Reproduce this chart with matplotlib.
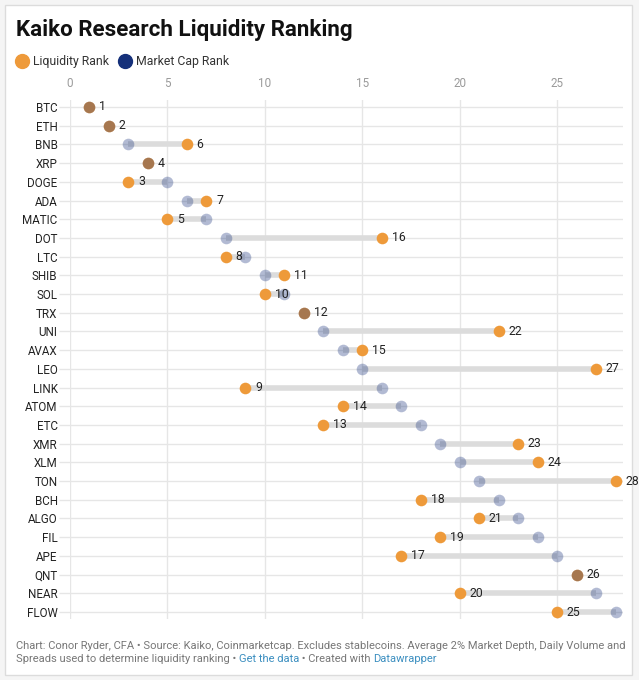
import matplotlib
matplotlib.use("Agg")
import matplotlib.pyplot as plt
from matplotlib.lines import Line2D
from matplotlib.patches import Rectangle

coins = ["BTC", "ETH", "BNB", "XRP", "DOGE", "ADA", "MATIC", "DOT", "LTC", "SHIB",
         "SOL", "TRX", "UNI", "AVAX", "LEO", "LINK", "ATOM", "ETC", "XMR", "XLM",
         "TON", "BCH", "ALGO", "FIL", "APE", "QNT", "NEAR", "FLOW"]
market_cap_rank = [1, 2, 3, 4, 5, 6, 7, 8, 9, 10, 11, 12, 13, 14, 15, 16, 17, 18, 19, 20,
                   21, 22, 23, 24, 25, 26, 27, 28]
liquidity_rank = [1, 2, 6, 4, 3, 7, 5, 16, 8, 11, 10, 12, 22, 15, 27, 9, 14, 13, 23, 24,
                  28, 18, 21, 19, 17, 26, 20, 25]
x_ticks = [0, 5, 10, 15, 20, 25]

ORANGE = "#ee9a3a"
NAVY = "#15307a"
GRID = "#e6e6e6"
FONT = "Roboto"

W, H = 639, 680
fig = plt.figure(figsize=(W / 100, H / 100), dpi=100)
fig.patch.set_facecolor("#f5f5f5")
fig.add_artist(Rectangle((5 / W, 1 - 675 / H), 627 / W, 670 / H, transform=fig.transFigure,
                         facecolor="white", edgecolor="#dcdcdc", linewidth=1, zorder=0))

ax_left, ax_right, ax_top, ax_bottom = 70, 623.3, 100, 619
ax = fig.add_axes([ax_left / W, 1 - ax_bottom / H, (ax_right - ax_left) / W, (ax_bottom - ax_top) / H])
ax.set_facecolor("none")
ax.set_zorder(1)

ypos = list(range(1, len(coins) + 1))
for y, m, l in zip(ypos, market_cap_rank, liquidity_rank):
    ax.plot([m, l], [y, y], color="#dcdcdc", linewidth=4.0, solid_capstyle="butt", zorder=2)
ax.scatter(liquidity_rank, ypos, s=70, color=ORANGE, zorder=3, linewidths=0)
ax.scatter(market_cap_rank, ypos, s=70, color=NAVY, alpha=0.33, zorder=4, linewidths=0)
for y, l in zip(ypos, liquidity_rank):
    ax.annotate(str(l), (l, y), xytext=(7, 0), textcoords="offset points", va="center",
                ha="left", fontsize=8.8, color="#222222", family=FONT, zorder=5)

ax.set_xlim(0, 28.39)
px_per_row = (612 - 107) / 27
ax.set_ylim(28 + 7 / px_per_row, 1 - 7 / px_per_row)
ax.set_xticks(x_ticks)
ax.set_yticks(ypos)
ax.set_yticklabels(coins)
ax.xaxis.tick_top()
ax.tick_params(axis="x", length=0, pad=7, labelsize=8.4, labelcolor="#9a9a9a")
ax.tick_params(axis="y", length=8, width=1, color=GRID, pad=1, labelsize=8.4, labelcolor="#222222")
for lab in ax.get_xticklabels() + ax.get_yticklabels():
    lab.set_family(FONT)
for s in ax.spines.values():
    s.set_visible(False)
ax.grid(True, color=GRID, linewidth=1, zorder=0)
ax.set_axisbelow(True)

# Title
fig.text(16 / W, 1 - 30 / H, "Kaiko Research Liquidity Ranking", fontsize=16.1, fontweight="bold",
         family=FONT, color="#111111", va="center", ha="left")

# Legend
ly = 1 - 61 / H
fig.add_artist(Line2D([22 / W], [ly], marker="o", markersize=10, color=ORANGE, linewidth=0,
                      transform=fig.transFigure))
fig.text(33 / W, ly, "Liquidity Rank", fontsize=8.8, family=FONT, color="#333333", va="center")
fig.add_artist(Line2D([125 / W], [ly], marker="o", markersize=10, color=NAVY, linewidth=0,
                      transform=fig.transFigure))
fig.text(136 / W, ly, "Market Cap Rank", fontsize=8.8, family=FONT, color="#333333", va="center")

# Footer
GREY = "#777777"
BLUE = "#3c8fc0"
fs = 8.0
fig.text(16 / W, 1 - 646 / H,
         "Chart: Conor Ryder, CFA \u2022 Source: Kaiko, Coinmarketcap. Excludes stablecoins. "
         "Average 2% Market Depth, Daily Volume and",
         fontsize=fs, family=FONT, color=GREY, va="center")
runs = [("Spreads used to determine liquidity ranking \u2022 ", GREY), ("Get the data", BLUE),
        (" \u2022 Created with ", GREY), ("Datawrapper", BLUE)]
fig.canvas.draw()
r = fig.canvas.get_renderer()


def text_width(s):
    t = fig.text(0, 0, s + "X", fontsize=fs, family=FONT)
    t2 = fig.text(0, 0, "X", fontsize=fs, family=FONT)
    w = t.get_window_extent(renderer=r).width - t2.get_window_extent(renderer=r).width
    t.remove()
    t2.remove()
    return w


prefix = ""
for txt, col in runs:
    xpix = 16 + (text_width(prefix) if prefix else 0)
    fig.text(xpix / W, 1 - 659 / H, txt, fontsize=fs, family=FONT, color=col, va="center")
    prefix += txt

fig.savefig("out.png", dpi=100, facecolor=fig.get_facecolor())
